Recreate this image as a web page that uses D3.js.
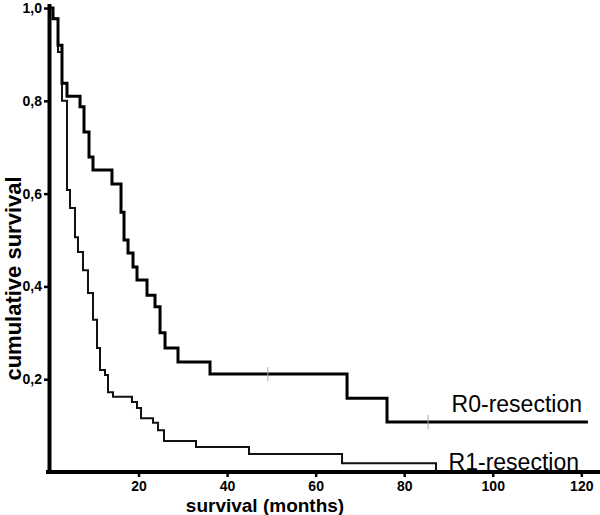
<!DOCTYPE html>
<html lang="en">
<head>
    <meta charset="UTF-8">
    <script src="https://cdn.jsdelivr.net/npm/d3@7"></script>
    <title>Survival R0 / R1</title>
    <style>
        body { margin: 0; background: #fff; }
        svg { display: block; font-family: "Liberation Sans", Arial, sans-serif; }
        .axis path, .axis line { stroke: #000; }
        .axis text { font-weight: bold; fill: #000; }
    </style>
</head>
<body>
<div id="chart"></div>
<script>
    // Kaplan-Meier steps: [months, cumulative survival]
    const r0Steps = [
        [0, 1.0], [0.68, 0.977], [1.81, 0.92], [2.71, 0.838], [3.84, 0.81],
        [6.78, 0.787], [7.68, 0.733], [8.81, 0.679], [9.71, 0.651], [14.0, 0.621],
        [16.04, 0.56], [16.72, 0.50], [17.62, 0.472], [18.75, 0.442], [19.65, 0.414],
        [21.91, 0.381], [23.72, 0.356], [24.85, 0.30], [25.98, 0.267], [28.91, 0.237],
        [36.14, 0.211], [67.09, 0.159], [76.12, 0.108], [121.5, 0.108]
    ];
    const r1Steps = [
        [0, 1.0], [0.68, 0.977], [1.81, 0.905], [2.71, 0.80], [3.84, 0.608],
        [4.52, 0.569], [5.65, 0.506], [6.32, 0.474], [7.45, 0.435], [8.58, 0.386],
        [9.71, 0.328], [10.62, 0.267], [11.29, 0.22], [12.42, 0.209], [13.1, 0.172],
        [14.23, 0.162], [18.52, 0.151], [19.65, 0.138], [20.56, 0.116], [23.27, 0.106],
        [24.4, 0.09], [25.75, 0.067], [32.98, 0.054], [44.95, 0.039], [65.96, 0.019],
        [87.19, 0.0]
    ];
    const r0Censored = [[49.2, 0.211], [85.4, 0.108]];

    const xTicks = [20, 40, 60, 80, 100, 120];
    const yTicks = [0.2, 0.4, 0.6, 0.8, 1.0];
    const labels = ["R0-resection", "R1-resection"];

    const width = 600, height = 515;

    const svg = d3.select("#chart").append("svg")
        .attr("width", width)
        .attr("height", height);

    const x = d3.scaleLinear().domain([0, 124]).range([50, 599]);
    const y = d3.scaleLinear().domain([0, 1.01]).range([472, 3.4]);

    const comma = d3.formatLocale({ decimal: ",", thousands: ".", grouping: [3], currency: ["", ""] }).format(".1f");

    /*------------- axes -------------*/
    const xAxis = svg.append("g")
        .attr("class", "axis")
        .attr("transform", `translate(0,${y(0)})`)
        .call(d3.axisBottom(x).tickValues(xTicks).tickSize(5).tickSizeOuter(0).tickPadding(4));
    xAxis.select(".domain").attr("stroke-width", 4).attr("d", `M46,0H600`);
    xAxis.selectAll(".tick line").attr("stroke-width", 2.5);
    xAxis.selectAll("text").style("font-size", "14px");

    const yAxis = svg.append("g")
        .attr("class", "axis")
        .attr("transform", "translate(49,0)")
        .call(d3.axisLeft(y).tickValues(yTicks).tickFormat(comma).tickSize(5).tickSizeOuter(0).tickPadding(2));
    yAxis.select(".domain").attr("stroke-width", 4);
    yAxis.selectAll(".tick line").attr("stroke-width", 2.5);
    yAxis.selectAll("text").style("font-size", "14px");

    // axis titles
    svg.append("text")
        .attr("transform", `translate(21,${(172 + 385) / 2}) rotate(-90)`)
        .attr("text-anchor", "middle")
        .style("font-size", "22px")
        .style("font-weight", "bold")
        .text("cumulative survival");

    svg.append("text")
        .attr("x", 265)
        .attr("y", 512)
        .attr("text-anchor", "middle")
        .style("font-size", "19px")
        .style("font-weight", "bold")
        .text("survival (months)");

    /*------------- curves -------------*/
    const line = d3.line()
        .x(d => x(d[0]))
        .y(d => y(d[1]))
        .curve(d3.curveStepAfter);

    svg.append("path")
        .datum(r1Steps)
        .attr("fill", "none")
        .attr("stroke", "#111")
        .attr("stroke-width", 2)
        .attr("d", line);

    svg.append("path")
        .datum(r0Steps)
        .attr("fill", "none")
        .attr("stroke", "#000")
        .attr("stroke-width", 3)
        .attr("d", line);

    svg.selectAll(".cens")
        .data(r0Censored)
        .enter()
        .append("line")
        .attr("class", "cens")
        .attr("x1", d => x(d[0]))
        .attr("x2", d => x(d[0]))
        .attr("y1", d => y(d[1]) - 7)
        .attr("y2", d => y(d[1]) + 7)
        .attr("stroke", "#aaa")
        .attr("stroke-width", 1);

    // curve labels
    svg.append("text")
        .attr("x", 582)
        .attr("y", 412)
        .attr("text-anchor", "end")
        .style("font-size", "23px")
        .text(labels[0]);

    svg.append("text")
        .attr("x", 579)
        .attr("y", 470)
        .attr("text-anchor", "end")
        .style("font-size", "23px")
        .text(labels[1]);
</script>
</body>
</html>
